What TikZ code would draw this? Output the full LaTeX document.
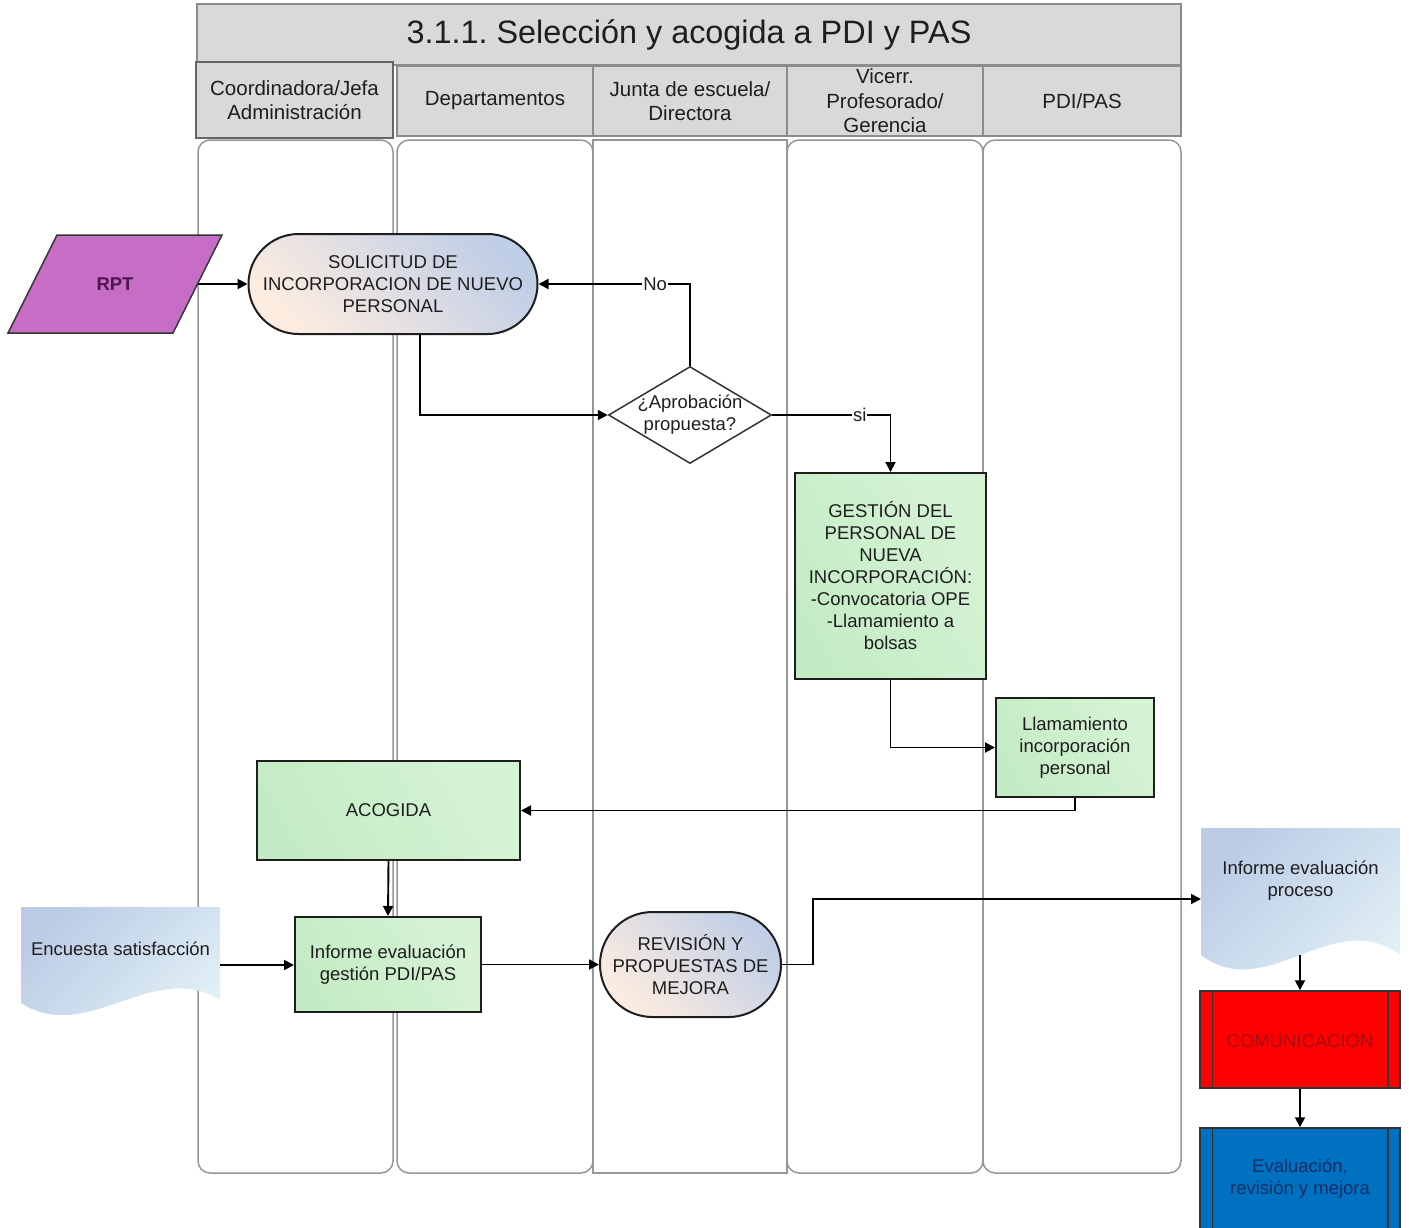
\documentclass[tikz,border=0pt]{standalone}
\usepackage{fontspec}
\setmainfont{Liberation Sans}
\usetikzlibrary{shapes.geometric,shapes.misc,arrows.meta}
\definecolor{txt}{RGB}{30,30,30}
\definecolor{hdrgray}{RGB}{217,217,217}
\definecolor{hdrline}{RGB}{140,140,140}
\definecolor{laneline}{RGB}{150,150,150}
\definecolor{greenA}{RGB}{196,236,196}
\definecolor{greenB}{RGB}{214,243,214}
\definecolor{stadB}{RGB}{192,206,230}
\definecolor{stadP}{RGB}{252,236,224}
\definecolor{docA}{RGB}{188,204,230}
\definecolor{docB}{RGB}{226,241,246}
\definecolor{rptfill}{RGB}{198,110,198}
\definecolor{rpttext}{RGB}{80,20,80}
\definecolor{comfill}{RGB}{255,0,0}
\definecolor{comtext}{RGB}{165,15,15}
\definecolor{evafill}{RGB}{0,112,192}
\definecolor{evatext}{RGB}{20,45,100}
\begin{document}
\begin{tikzpicture}[x=0.5pt,y=-0.5pt,
  body/.style={font=\fontsize{9.25}{11}\selectfont, align=center, text=txt},
  hdrtext/.style={font=\fontsize{10.25}{12.25}\selectfont, align=center, text=txt},
  lane/.style={draw=laneline, line width=0.75pt},
  hdr/.style={draw=hdrline, fill=hdrgray, line width=0.75pt, inner sep=0pt, hdrtext},
  proc/.style={rectangle, draw=txt, line width=1pt, left color=greenA, right color=greenB, shading angle=120, inner sep=0pt, body},
  term/.style={rounded rectangle, draw=txt, line width=1pt, top color=stadB, bottom color=stadP, shading angle=-45, inner sep=0pt},
  conn/.style={line width=0.95pt, draw=black, -{Triangle[length=5pt,width=5pt]}},
  lbl/.style={fill=white, inner sep=0.5pt, body}
]
\useasboundingbox (0,0) rectangle (1409,1227);
\clip (0,0) rectangle (1409,1227);

% lanes
\draw[lane] (593,140) rectangle (787,1173);
\draw[lane, rounded corners=6pt] (198,140) rectangle (393,1173);
\draw[lane, rounded corners=6pt] (397,140) rectangle (593,1173);
\draw[lane, rounded corners=6pt] (787,140) rectangle (983,1173);
\draw[lane, rounded corners=6pt] (983,140) rectangle (1181,1173);

% title and headers
\node[hdr, minimum width=492pt, minimum height=30.5pt, font=\fontsize{16.2}{19}\selectfont] (title) at (689,34.5) {3.1.1.\ Selección y acogida a PDI y PAS};
\node[hdr, minimum width=98pt, minimum height=35pt] (h2) at (495,101) {Departamentos};
\node[hdr, minimum width=97pt, minimum height=35pt] (h3) at (690,101) {Junta de escuela/\\Directora};
\node[hdr, minimum width=98pt, minimum height=35pt] (h4) at (885,101) {Vicerr.\\Profesorado/\\Gerencia};
\node[hdr, minimum width=99pt, minimum height=35pt] (h5) at (1082,101) {PDI/PAS};
\node[hdr, draw=black!60, line width=1pt, minimum width=98.5pt, minimum height=38pt] (h1) at (294.5,100) {Coordinadora/Jefa\\Administración};

% RPT
\draw[fill=rptfill, draw=black!80, line width=0.75pt] (57,235) -- (222,235) -- (173,333) -- (8,333) -- cycle;
\node[minimum width=82.5pt, minimum height=49pt, inner sep=0pt, font=\fontsize{9.25}{11}\selectfont\bfseries, text=rpttext] (rpt) at (115,284) {RPT};

% solicitud
\node[term, minimum width=144.5pt, minimum height=50pt,
  label={[body]center:SOLICITUD DE\\INCORPORACION DE NUEVO\\PERSONAL}] (sol) at (393,284) {};

% decision
\node[diamond, draw=black!80, fill=white, line width=0.75pt, inner sep=0pt, minimum width=81.5pt, minimum height=48.5pt,
  label={[body]center:¿Aprobación\\propuesta?}] (dia) at (690,415) {};

% process boxes
\node[proc, minimum width=95.5pt, minimum height=103pt] (ges) at (890.5,576) {GESTIÓN DEL\\PERSONAL DE\\NUEVA\\INCORPORACIÓN:\\-Convocatoria OPE\\-Llamamiento a\\bolsas};
\node[proc, minimum width=79pt, minimum height=49.5pt] (lla) at (1075,747.5) {Llamamiento\\incorporación\\personal};
\node[proc, minimum width=131.5pt, minimum height=49.5pt] (aco) at (388.5,810.5) {ACOGIDA};
\node[proc, minimum width=93pt, minimum height=47.5pt] (inf) at (388,964.5) {Informe evaluación\\gestión PDI/PAS};

\node[term, minimum width=90.5pt, minimum height=52.5pt,
  label={[body]center:REVISIÓN Y\\PROPUESTAS DE\\MEJORA}] (rev) at (690.5,964.5) {};

% documents
\shade[top color=docA, bottom color=docB, shading angle=45] (21,907) -- (220,907) -- (220,1000) .. controls (154,958) and (87,1046) .. (21,1003) -- cycle;
\node[body, minimum width=99.5pt, inner sep=0pt] (enc) at (120.5,949) {Encuesta satisfacción};
\coordinate (encout) at (220,965);

\shade[top color=docA, bottom color=docB, shading angle=45] (1201,828) -- (1400,828) -- (1400,955) .. controls (1334,905) and (1267,1005) .. (1201,955) -- cycle;
\node[body, minimum width=99.5pt, inner sep=0pt] (infp) at (1300.5,881) {Informe evaluación\\proceso};
\coordinate (infpin) at (1201,899);
\coordinate (infpb) at (1300,955);

% comunicacion / evaluacion
\node[rectangle, draw=black!80, line width=0.75pt, fill=comfill, minimum width=100pt, minimum height=48.5pt, inner sep=0pt, body, text=comtext] (com) at (1300,1039.5) {COMUNICACIÓN};
\draw[black!80, line width=0.75pt] ([xshift=6.5pt]com.north west) -- ([xshift=6.5pt]com.south west);
\draw[black!80, line width=0.75pt] ([xshift=-6.5pt]com.north east) -- ([xshift=-6.5pt]com.south east);
\node[rectangle, draw=black!80, line width=0.75pt, fill=evafill, minimum width=100pt, minimum height=51pt, inner sep=0pt, body, text=evatext] (eva) at (1300,1179) {Evaluación,\\revisión y mejora};
\draw[black!80, line width=0.75pt] ([xshift=6.5pt]eva.north west) -- ([xshift=6.5pt]eva.south west);
\draw[black!80, line width=0.75pt] ([xshift=-6.5pt]eva.north east) -- ([xshift=-6.5pt]eva.south east);

% connectors
\draw[conn] (rpt.east) -- (sol.west);
\draw[conn] ([xshift=13.5pt]sol.south) |- (dia.west);
\draw[conn] (dia.north) |- node[lbl, pos=0.615]{No} (sol.east);
\draw[conn] (dia.east) -| node[lbl, pos=0.37]{si} (ges.north);
\draw[conn] (ges.south) |- (lla.west);
\draw[conn] (lla.south) |- (aco.east);
\draw[conn] (aco.south) -- (inf.north);
\draw[conn] (encout) -- (encout -| inf.west);
\draw[conn] (inf.east) -- (rev.west);
\draw[conn] (rev.east) -- ++(15.5pt,0) |- (infpin);
\draw[conn] (infpb) -- (com.north);
\draw[conn] (com.south) -- (eva.north);
\end{tikzpicture}
\end{document}
